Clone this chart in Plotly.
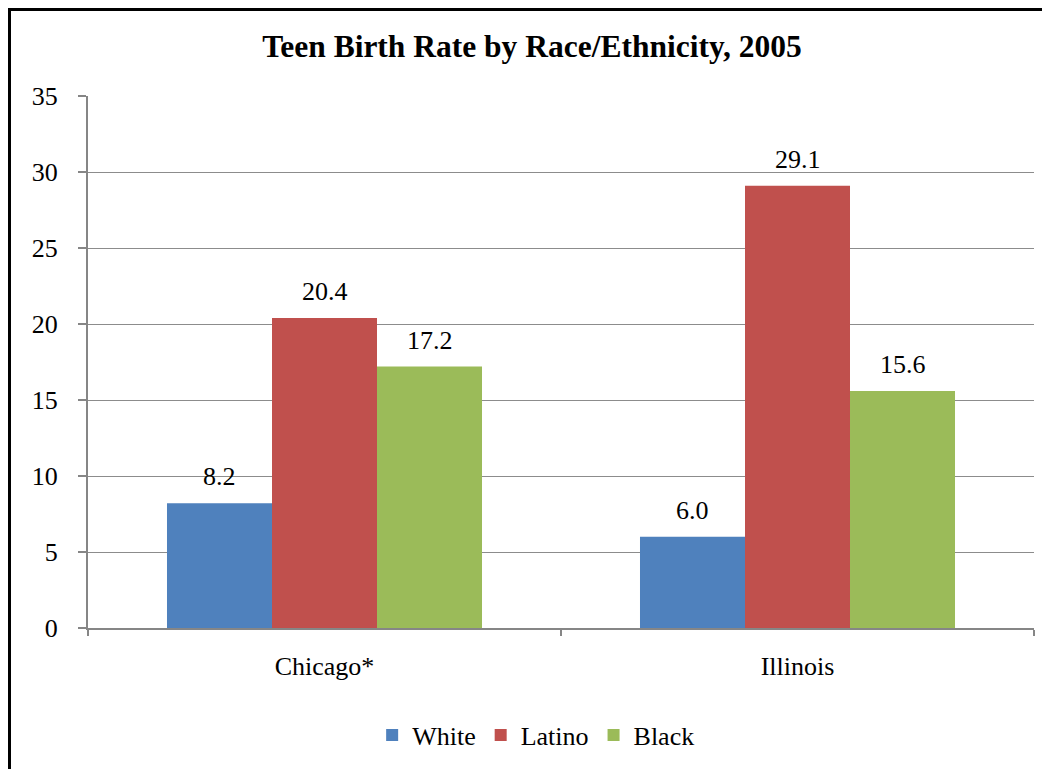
import plotly.graph_objects as go

categories = ["Chicago*", "Illinois"]
series_names = ["White", "Latino", "Black"]
white = [8.2, 6.0]
latino = [20.4, 29.1]
black = [17.2, 15.6]
colors = ["#4F81BD", "#C0504D", "#9BBB59"]
y_ticks = [0, 5, 10, 15, 20, 25, 30, 35]

FONT = "Liberation Serif"

fig = go.Figure()
all_vals = [white, latino, black]
for name, vals, col in zip(series_names, all_vals, colors):
    fig.add_trace(go.Bar(
        x=categories, y=vals, name=name,
        marker=dict(color=col, line=dict(width=0)),
    ))

# data labels
offsets = [-1, 0, 1]
annotations = []
for k, vals in enumerate(all_vals):
    for i, v in enumerate(vals):
        annotations.append(dict(
            x=i + offsets[k] * (1 - 0.334) / 3, y=v, xref="x", yref="y",
            text=f"{v:.1f}", showarrow=False, yanchor="bottom", yshift=10,
            font=dict(family=FONT, size=26, color="black"),
        ))

fig.update_layout(
    width=1050, height=769,
    margin=dict(l=80, r=24, t=88, b=149),
    paper_bgcolor="white", plot_bgcolor="white",
    barmode="group", bargap=0.334, bargroupgap=0,
    title=dict(text="<b>Teen Birth Rate by Race/Ethnicity, 2005</b>",
               x=0.499, xanchor="center", y=0.951, yanchor="middle",
               font=dict(family=FONT, size=31.5, color="black")),
    font=dict(family=FONT, size=26, color="black"),
    legend=dict(orientation="h", x=0.503, xanchor="center", xref="container",
                y=0.0546, yanchor="middle", yref="container",
                font=dict(family=FONT, size=26, color="black"),
                itemwidth=30, tracegroupgap=0),
    annotations=annotations,
    showlegend=True,
)
fig.update_xaxes(
    type="category", range=[-0.5, 1.5],
    showline=True, linecolor="#868686", linewidth=2,
    ticks="outside", tickson="boundaries", ticklen=6, tickcolor="#868686", tickwidth=2,
    ticklabelstandoff=14,
    showgrid=False, tickfont=dict(family=FONT, size=26, color="black"),
)
fig.update_yaxes(
    range=[0, 35], tickvals=y_ticks,
    showline=True, linecolor="#868686", linewidth=2,
    ticks="outside", ticklen=8, tickcolor="#868686", tickwidth=2,
    ticklabelstandoff=15,
    showgrid=True, gridcolor="#8C8C8C", gridwidth=1,
    zeroline=False,
    tickfont=dict(family=FONT, size=26, color="black"),
)
# outer frame (left and top edges visible)
plot_w = 1050 - 80 - 24
plot_h = 769 - 88 - 149
fig.add_shape(type="rect", xref="paper", yref="paper",
              x0=-(80 - 1.5) / plot_w, x1=1.2,
              y0=-0.5, y1=1 + (88 - 1.5) / plot_h,
              line=dict(color="black", width=3), fillcolor="rgba(0,0,0,0)", layer="above")

fig.write_html("out.html")
